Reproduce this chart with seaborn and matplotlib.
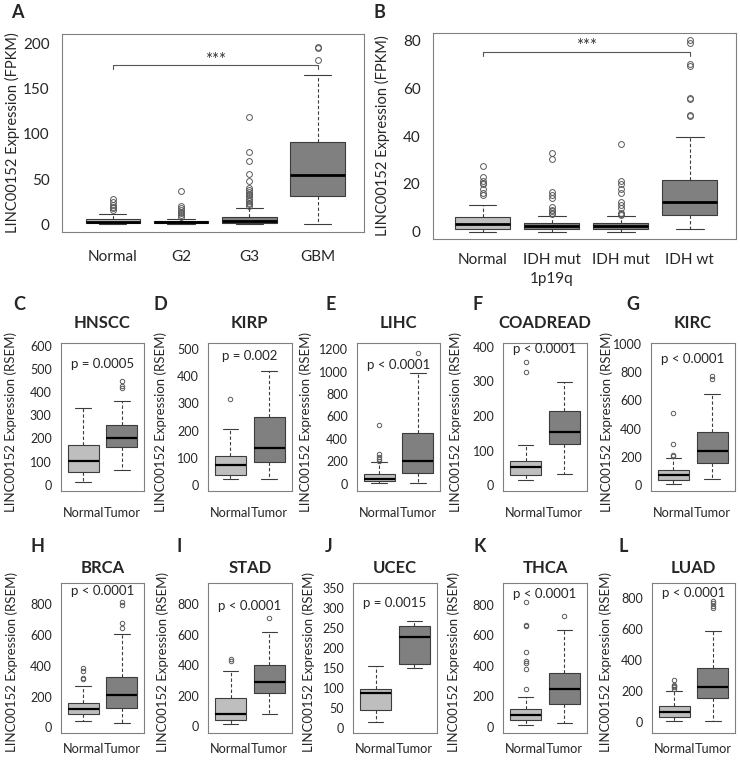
import numpy as np
import matplotlib
matplotlib.use("Agg")
import matplotlib.pyplot as plt
import seaborn as sns

sns.set_style("white")
plt.rcParams['font.family'] = ['Lato', 'DejaVu Sans']

W, H = 740, 764
LIGHT, DARK = "#bebebe", "#808080"
EDGE, FRAME = "#3c3c3c", "#808080"

# ---- panel A: glioma grade (FPKM) ----
A_groups = ["Normal", "G2", "G3", "GBM"]
A_q1 = [1, 1, 2, 31.7]
A_med = [3, 2.5, 3.5, 54.5]
A_q3 = [6, 3.5, 8.5, 90.6]
A_lo = [0, 0, 0, 0]
A_hi = [11, 6, 18.4, 164.6]
A_out = [[16, 18, 19.5, 21, 25, 28],
         [8, 10, 12, 14, 16, 18, 20, 37],
         [20, 22, 24, 26, 28, 30, 32, 34, 36, 38, 40, 48, 56, 70, 80, 119],
         [182, 195, 196]]
A_ticks = [0, 50, 100, 150, 200]

# ---- panel B: IDH / 1p19q status (FPKM) ----
B_groups = ["Normal", "IDH mut\n1p19q", "IDH mut", "IDH wt"]
B_q1 = [1.3, 1.1, 1.2, 7]
B_med = [3.1, 2.4, 2.3, 12.6]
B_q3 = [6.3, 3.8, 3.8, 21.5]
B_lo = [0, 0, 0, 1]
B_hi = [11.2, 6.4, 6.5, 39.7]
B_out = [[15.3, 16, 18, 19.8, 20.5, 21, 23, 27.6],
         [7.5, 8, 8.5, 9, 10.5, 14, 15.3, 16.7, 30.3, 32.8],
         [7, 7.5, 8, 10, 11.2, 12.3, 16.3, 17.7, 19.8, 21, 36.7],
         [48.4, 49, 55.5, 56, 69.5, 70, 78.8, 80.2]]
B_ticks = [0, 20, 40, 60, 80]

# ---- panels C-L: TCGA Normal vs Tumor (RSEM) ----
pair = ["Normal", "Tumor"]
cancers = ["HNSCC", "KIRP", "LIHC", "COADREAD", "KIRC",
           "BRCA", "STAD", "UCEC", "THCA", "LUAD"]
letters = ["C", "D", "E", "F", "G", "H", "I", "J", "K", "L"]
pvals = ["p = 0.0005", "p = 0.002", "p < 0.0001", "p < 0.0001", "p < 0.0001",
         "p < 0.0001", "p < 0.0001", "p = 0.0015", "p < 0.0001", "p < 0.0001"]
# [Normal, Tumor] for each cancer
q1 = [[57, 162], [35, 84], [21, 95], [31, 120], [38, 157],
      [87, 128], [42, 216], [45, 161], [43, 148], [30, 157]]
med = [[101, 204], [73, 134], [44, 204], [53, 155], [69, 243],
       [117, 207], [82, 291], [87, 229], [80, 250], [62, 226]]
q3 = [[172, 258], [106, 250], [89, 453], [70, 215], [105, 376],
      [159, 326], [185, 402], [98, 256], [120, 352], [101, 350]]
lo = [[13, 64], [21, 23], [3, 5], [16, 33], [10, 45],
      [43, 26], [17, 82], [15, 151], [11, 28], [5, 4]]
hi = [[330, 364], [206, 417], [193, 987], [118, 298], [190, 648],
      [270, 609], [359, 620], [156, 268], [198, 635], [198, 589]]
out_normal = [[], [316], [205, 220, 240, 265, 527], [326, 357], [202, 212, 293, 512],
              [315, 322, 365, 385], [430, 440], [], [252, 380, 417, 430, 493, 659, 670, 820],
              [215, 225, 232, 240, 269]]
out_tumor = [[418, 425, 447], [], [1161], [], [748, 770],
             [643, 676, 796, 817], [710], [], [724], [740, 753, 768, 783]]
yticks = [list(range(0, 601, 100)), list(range(0, 501, 100)), list(range(0, 1201, 200)),
          list(range(0, 401, 100)), list(range(0, 1001, 200)), list(range(0, 801, 200)),
          list(range(0, 801, 200)), list(range(0, 351, 50)), list(range(0, 801, 200)),
          list(range(0, 801, 200))]
ylims = [(-27, 615), (-22, 523), (-65, 1259), (-16, 412), (-43, 1010),
         (-37, 937), (-43, 935), (-13, 363), (-39, 941), (-71, 897)]
p_frac = [0.857, 0.91, 0.848, 0.954, 0.89, 0.949, 0.85, 0.87, 0.928, 0.933]

# layout (pixels)
col_left = [[60.7, 208.0, 356.7, 503.3, 651.0], [60.7, 208.3, 353.3, 503.3, 651.7]]
row_span = [(342.5, 491.0), (583.3, 733.0)]
ylab_x = [[11, 161, 306, 456, 607], [12, 163, 309, 454, 606]]
ylab_y = [422, 662]
title_y = [323, 568]
letter_x = [[19, 160, 331, 478, 633], [37, 179, 329, 480, 623]]
letter_y = [304, 546]
xpad = [8, 4]
AX_W = 83.5


def add_ax(fig, x0, x1, ytop, ybot):
    return fig.add_axes([x0 / W, 1 - ybot / H, (x1 - x0) / W, (ybot - ytop) / H])


def boxes(ax, groups, q1s, meds, q3s, los, his, outs, big):
    stats = []
    for g, a, m, b, l, h, o in zip(groups, q1s, meds, q3s, los, his, outs):
        stats.append(dict(label=g, q1=a, med=m, q3=b, whislo=l, whishi=h,
                          fliers=np.array(o, dtype=float)))
    colors = [LIGHT] + [DARK] * (len(groups) - 1)
    bp = ax.bxp(stats, positions=range(1, len(groups) + 1), widths=0.8, capwidths=0.4,
                patch_artist=True,
                boxprops=dict(edgecolor=EDGE, linewidth=0.8),
                medianprops=dict(color="black", linewidth=2.0 if big else 1.6),
                whiskerprops=dict(color=EDGE, linewidth=0.8, linestyle=(0, (3, 2))),
                capprops=dict(color=EDGE, linewidth=0.8),
                flierprops=dict(marker="o", markerfacecolor="none", markeredgecolor="#5a5a5a",
                                markersize=4.2 if big else 3.2, markeredgewidth=0.7))
    for patch, c in zip(bp["boxes"], colors):
        patch.set_facecolor(c)
    for s in ax.spines.values():
        s.set_color(FRAME)
        s.set_linewidth(0.8)


def bracket(ax, n, y, drop, star_y):
    ax.plot([1, 1, n, n], [y - drop, y, y, y - drop], color="#555555", lw=0.8)
    ax.text((1 + n) / 2, star_y, "***", ha="center", va="center", fontsize=12, color="#333333")


fig = plt.figure(figsize=(W / 100, H / 100), dpi=100)

# --- A ---
ax = add_ax(fig, 62.3, 364, 34.3, 232.3)
boxes(ax, A_groups, A_q1, A_med, A_q3, A_lo, A_hi, A_out, True)
ax.set_xlim(0.26, 4.68)
ax.set_ylim(-8.8, 210)
ax.set_yticks(A_ticks)
ax.set_xticks(range(1, 5))
ax.set_xticklabels(A_groups)
ax.tick_params(direction="out", length=6, width=0.8, color=FRAME, labelsize=11, pad=3)
ax.tick_params(axis="x", pad=7)
bracket(ax, 4, 176, 4.8, 182)
fig.text(12 / W, 1 - 133 / H, "LINC00152 Expression (FPKM)", rotation=90,
         ha="center", va="center", fontsize=10.5)
fig.text(17 / W, 1 - 12 / H, "A", ha="center", va="center", fontsize=13, fontweight="bold")

# --- B ---
ax = add_ax(fig, 433, 736, 33, 239)
boxes(ax, B_groups, B_q1, B_med, B_q3, B_lo, B_hi, B_out, True)
ax.set_xlim(0.28, 4.67)
ax.set_ylim(-3.05, 83.1)
ax.set_yticks(B_ticks)
ax.set_xticks(range(1, 5))
ax.set_xticklabels(B_groups, linespacing=1.5)
ax.tick_params(direction="out", length=6, width=0.8, color=FRAME, labelsize=11, pad=3)
ax.tick_params(axis="x", pad=4)
bracket(ax, 4, 75.2, 1.8, 77.6)
fig.text(382 / W, 1 - 136 / H, "LINC00152 Expression (FPKM)", rotation=90,
         ha="center", va="center", fontsize=10.5)
fig.text(379 / W, 1 - 12 / H, "B", ha="center", va="center", fontsize=13, fontweight="bold")

# --- C to L ---
for i, name in enumerate(cancers):
    r, c = divmod(i, 5)
    x0 = col_left[r][c]
    ytop, ybot = row_span[r]
    ax = add_ax(fig, x0, x0 + AX_W, ytop, ybot)
    boxes(ax, pair, q1[i], med[i], q3[i], lo[i], hi[i],
          [out_normal[i], out_tumor[i]], False)
    ax.set_xlim(0.42, 2.58)
    ax.set_ylim(*ylims[i])
    ax.set_yticks(yticks[i])
    ax.set_xticks([1, 2])
    ax.set_xticklabels(pair)
    ax.tick_params(direction="out", length=3.5, width=0.8, color=FRAME, labelsize=9, pad=3)
    ax.tick_params(axis="x", pad=xpad[r], labelsize=9.2)
    ax.text(0.5, p_frac[i], pvals[i], transform=ax.transAxes, ha="center", va="center",
            fontsize=9.5)
    fig.text((x0 + AX_W / 2) / W, 1 - title_y[r] / H, name, ha="center", va="center",
             fontsize=12, fontweight="bold")
    fig.text(ylab_x[r][c] / W, 1 - ylab_y[r] / H, "LINC00152 Expression (RSEM)",
             rotation=90, ha="center", va="center", fontsize=9.5)
    fig.text(letter_x[r][c] / W, 1 - letter_y[r] / H, letters[i], ha="center",
             va="center", fontsize=13, fontweight="bold")

fig.savefig("out.png", dpi=100)
